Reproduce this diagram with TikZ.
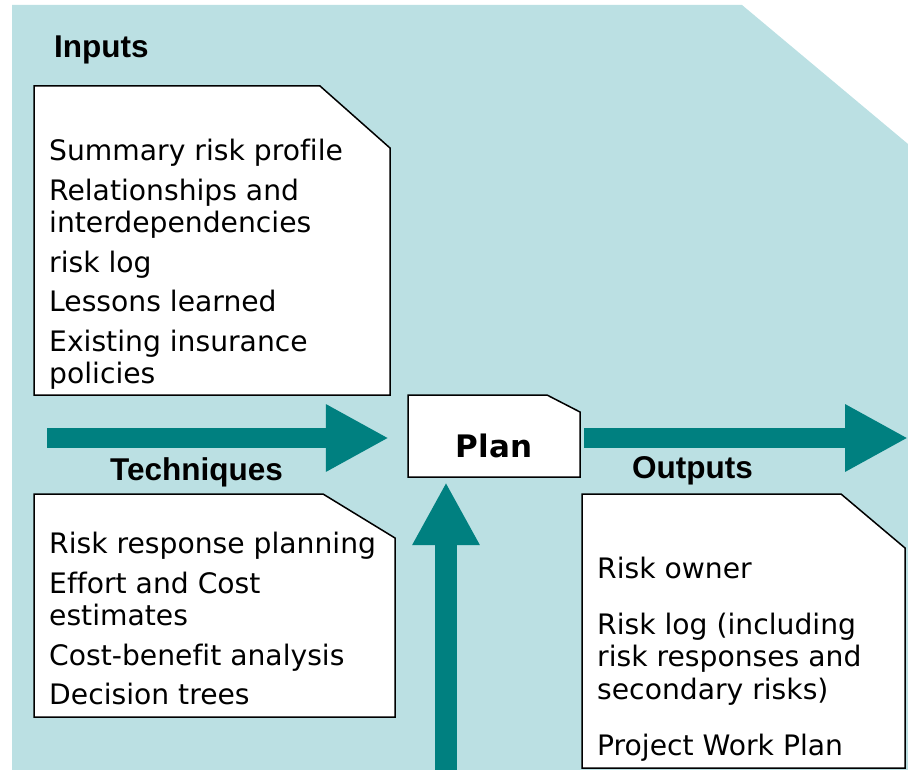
\documentclass[tikz,border=0pt]{standalone}
\usepackage{fontspec}
\setmainfont{DejaVu Sans}[Ligatures=CommonOff]
\newfontfamily\headfont{Liberation Sans}
\usetikzlibrary{arrows.meta, positioning}

\definecolor{bgteal}{RGB}{187,224,227}
\definecolor{arrowteal}{RGB}{0,128,128}

\tikzset{
  paper/.style={draw=black, fill=white, line width=1.5pt, line join=miter},
  bodytext/.style={font=\fontsize{28.2}{32.5}\selectfont, align=left, inner sep=0pt, anchor=north west},
  heading/.style={font=\headfont\bfseries\fontsize{31.5}{34}\selectfont, inner sep=0pt, anchor=base west},
  bigarrow/.style={draw=arrowteal, line width=20pt, -{Triangle[length=63pt, width=63pt]}}
}

\begin{document}
\begin{tikzpicture}[x=1pt, y=-1pt]
    \useasboundingbox (0,0) rectangle (908,770);
    \fill[bgteal] (12,5) -- (742,5) -- (908,144) -- (908,770) -- (12,770) -- cycle;

    % paper sheets
    \filldraw[paper] (34,86) -- (320,86) -- (390,148) -- (390,395) -- (34,395) -- cycle;
    \filldraw[paper] (34,494) -- (323,494) -- (395,538) -- (395,717) -- (34,717) -- cycle;
    \filldraw[paper] (582,494) -- (841,494) -- (905,548) -- (905,768) -- (582,768) -- cycle;
    \filldraw[paper] (408,395) -- (547,395) -- (580,412) -- (580,477) -- (408,477) -- cycle;

    \node[minimum width=172pt, minimum height=82pt, inner sep=0pt] (plan) at (494,436) {};
    \node[font=\bfseries\fontsize{31}{34}\selectfont, inner sep=0pt, anchor=base] (planlabel) at (494,457) {Plan};

    \node[heading] (inhead) at (54,58) {Inputs};
    \node[heading] (techhead) at (110,480) {Techniques};
    \node[heading] (outhead) at (632,478) {Outputs};

    \node[bodytext] (inputs) at (49,139) {Summary risk profile\\[7pt]
      Relationships and\\ interdependencies\\[7pt]
      risk log\\[7pt]
      Lessons learned\\[7pt]
      Existing insurance\\ policies};
    \node[bodytext] (techniques) at (49,532) {Risk response planning\\[7pt]
      Effort and Cost\\ estimates\\[7pt]
      Cost-benefit analysis\\[7pt]
      Decision trees};
    \node[bodytext] (outputs) at (597,557) {Risk owner\\[23pt]
      Risk log (including\\ risk responses and\\ secondary risks)\\[24pt]
      Project Work Plan};

    % flow arrows
    \coordinate (instart) at (47,438);
    \coordinate (outend) at (908,438);
    \coordinate (ctrlstart) at (446,770);
    \draw[bigarrow] (instart) -- ([xshift=-19pt]plan.west |- instart);
    \draw[bigarrow] ([xshift=4pt]plan.east |- outend) -- (outend);
    \draw[bigarrow, line width=22pt] (ctrlstart) -- ([yshift=-5pt]ctrlstart |- plan.south);
\end{tikzpicture}
\end{document}
